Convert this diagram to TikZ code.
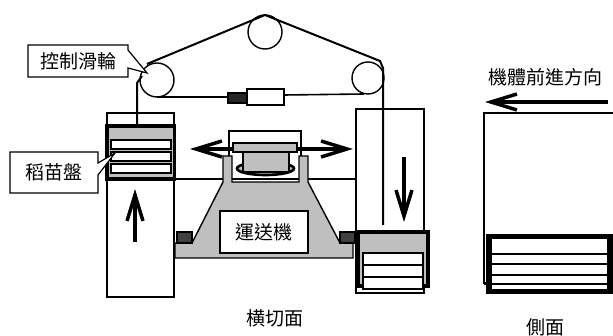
\documentclass[tikz,border=0pt]{standalone}
\usepackage{fontspec}
\setmainfont{Noto Sans CJK TC}
\usetikzlibrary{arrows.meta}
\definecolor{traygray}{gray}{0.75}
\definecolor{darkpart}{gray}{0.25}

\begin{document}
\begin{tikzpicture}[x=1pt,y=-1pt,>={Straight Barb[length=26pt,width=16pt]},
  frame/.style={draw,line width=1.4pt},
  tray/.style={draw,fill=traygray,line width=3.2pt},
  slat/.style={draw,fill=white,line width=1.6pt},
  wire/.style={draw,line width=2pt},
  pulley/.style={draw,line width=1.4pt},
  push/.style={line width=3.5pt,->},
  callout/.style={draw,fill=white,line width=1.2pt},
  lbl/.style={font=\fontsize{19}{21}\selectfont,inner sep=0pt}]
\path[use as bounding box] (0,0) rectangle (613,336);

% columns of the cross section
\draw[frame] (107,113) rectangle (174,297);
\draw[frame] (356,109) rectangle (424,293);
\draw[frame] (174,179) -- (356,179);

% wires and pulleys
\draw[wire] (137,125) -- (137,83) -- (142,76);
\draw[wire] (147,64) -- (265,15) -- (380,61) -- (383,68) -- (383,225);
\draw[wire,line width=1.6pt] (157,97) -- (228,97);
\draw[wire,line width=1.6pt] (284,95) -- (364,94);
\filldraw[fill=black!85,line width=1.2pt] (228,93) rectangle (247,103);
\draw[line width=1.4pt,fill=white] (247,89) rectangle (284,105);
\draw[pulley] (157,80) circle (17pt);
\draw[pulley] (265,32) circle (17pt);
\draw[pulley] (368,78) circle (16pt);

% trays
\draw[tray] (107,126) rectangle (174.5,179);
\foreach \y in {140,152,164}
  \draw[slat] (111,\y) rectangle (171,\y+9);
\draw[tray] (358,232) rectangle (428,286);
\draw[slat] (363,253) rectangle (423,289);
\draw[line width=2.2pt] (363,265) -- (423,265) (363,277) -- (423,277);
\draw[push] (135,242) -- (135,189);
\draw[push] (404,157) -- (404,222);

% conveyor
\draw[line width=1.4pt,fill=traygray] (175,258) -- (175,243) -- (192,243) -- (223,182)
  -- (223,156) -- (232,156) -- (232,182) -- (299,182) -- (299,156) -- (308,156)
  -- (308,182) -- (340,243) -- (353,243) -- (353,258) -- cycle;
\filldraw[fill=darkpart,line width=1.2pt] (177,232) rectangle (192,243);
\filldraw[fill=darkpart,line width=1.2pt] (340,232) rectangle (355,243);
\node[draw,fill=white,line width=1.4pt,minimum width=88pt,minimum height=42pt,lbl] (conv) at (264,232) {運送機};
\draw[line width=1.4pt] (229,156) -- (229,131) -- (301,131) -- (301,156);
\draw[push,<->] (190,149) -- (353,149);
\draw[line width=2.6pt,fill=traygray] (265.5,168.5) ellipse (28.5pt and 6.5pt);
\draw[line width=1.4pt,fill=traygray] (243,152) rectangle (289,172);
\draw[line width=1.4pt,fill=traygray] (233,143) rectangle (297,152);

% callouts
\draw[callout] (28,45) -- (128,45) -- (128,50) -- (147,73) -- (128,68) -- (128,77) -- (28,77) -- cycle;
\node[lbl] (ctrl) at (78,61) {控制滑輪};
\draw[callout] (10,152) -- (98,152) -- (98,163) -- (115,153) -- (98,175) -- (98,193) -- (10,193) -- cycle;
\node[lbl] (seedling) at (54,172) {稻苗盤};

% side view
\node[lbl] (fwd) at (545,77) {機體前進方向};
\draw[push] (608,102) -- (485,102);
\draw[frame] (613,113) -- (484,113) -- (484,283) -- (488,283);
\draw[line width=3.2pt] (488,236) rectangle (611,292);
\draw[line width=1.2pt] (491,238) rectangle (608,290);
\draw[line width=1.4pt] (491,254) -- (608,254);
\draw[line width=2.4pt] (488,264) -- (611,264) (488,275) -- (611,275) (484,284) -- (611,284);

\node[lbl] (cross) at (275,318) {横切面};
\node[lbl] (side) at (545,327) {側面};
\end{tikzpicture}
\end{document}
